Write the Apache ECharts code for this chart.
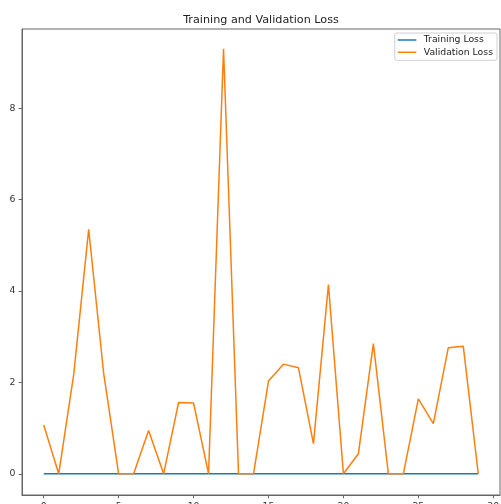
<!DOCTYPE html>
<html>
<head>
<meta charset="utf-8">
<script src="https://cdn.jsdelivr.net/npm/echarts@6/dist/echarts.min.js"></script>
<style>
html,body{margin:0;padding:0;background:#fff;}
#chart{width:501px;height:504px;}
</style>
</head>
<body>
<div id="chart"></div>
<script>
var epochs = [0,1,2,3,4,5,6,7,8,9,10,11,12,13,14,15,16,17,18,19,20,21,22,23,24,25,26,27,28,29];
var trainingLoss = [0,0,0,0,0,0,0,0,0,0,0,0,0,0,0,0,0,0,0,0,0,0,0,0,0,0,0,0,0,0];
var validationLoss = [1.07,0,2.17,5.35,2.2,0,0,0.95,0,1.56,1.55,0,9.3,0,0,2.03,2.4,2.32,0.66,4.14,0,0.44,2.85,0,0,1.64,1.1,2.76,2.79,0];
var xTicks = [0,5,10,15,20,25,30];
var yTicks = [0,2,4,6,8];
var seriesNames = ['Training Loss','Validation Loss'];
var titleText = 'Training and Validation Loss';

function pairs(xs, ys){ return xs.map(function(x,i){ return [x, ys[i]]; }); }

var font = 'DejaVu Sans';
var axisColor = '#666';
var chart = echarts.init(document.getElementById('chart'), null, {renderer:'canvas'});
chart.setOption({
  animation: false,
  backgroundColor: '#fff',
  textStyle: {fontFamily: font},
  title: {
    text: titleText,
    left: 261,
    textAlign: 'center',
    top: 15,
    padding: 0,
    textStyle: {fontFamily: font, fontSize: 11.2, fontWeight: 'normal', color: '#222'}
  },
  legend: {
    data: seriesNames,
    orient: 'vertical',
    right: 4,
    top: 33,
    icon: 'rect',
    itemWidth: 18.6,
    itemHeight: 1.5,
    itemGap: 3.3,
    padding: [2.5, 4, 3.5, 3],
    borderColor: '#d0d0d0',
    borderWidth: 1,
    borderRadius: 2,
    backgroundColor: 'rgba(255,255,255,0.8)',
    textStyle: {fontFamily: font, fontSize: 9.3, color: '#222', padding: [0,0,0,2.4]}
  },
  grid: {
    left: 22, top: 29, right: 1, bottom: 9,
    outerBoundsMode: 'none',
    show: true, borderColor: axisColor, borderWidth: 1, backgroundColor: 'transparent',
    containLabel: false
  },
  xAxis: {
    type: 'value',
    min: -1.45, max: 30.45,
    axisLine: {show: true, onZero: false, lineStyle: {color: axisColor, width: 1}},
    axisTick: {show: true, length: 3.3, customValues: xTicks, lineStyle: {color: axisColor}},
    axisLabel: {show: true, customValues: xTicks, margin: 6.6, fontSize: 9.3, color: '#333', fontFamily: font},
    splitLine: {show: false}
  },
  yAxis: {
    type: 'value',
    min: -0.4635, max: 9.7335,
    axisLine: {show: true, onZero: false, lineStyle: {color: axisColor, width: 1}},
    axisTick: {show: true, length: 3.3, customValues: yTicks, lineStyle: {color: axisColor}},
    axisLabel: {show: true, customValues: yTicks, margin: 6.6, fontSize: 9.3, color: '#333', fontFamily: font},
    splitLine: {show: false}
  },
  series: [
    {
      name: seriesNames[0], type: 'line', data: pairs(epochs, trainingLoss),
      showSymbol: false, symbol: 'none', color: '#1f77b4',
      lineStyle: {width: 1.5, color: '#1f77b4'}
    },
    {
      name: seriesNames[1], type: 'line', data: pairs(epochs, validationLoss),
      showSymbol: false, symbol: 'none', color: '#ff7f0e',
      lineStyle: {width: 1.5, color: '#ff7f0e'}
    }
  ]
});
</script>
</body>
</html>
